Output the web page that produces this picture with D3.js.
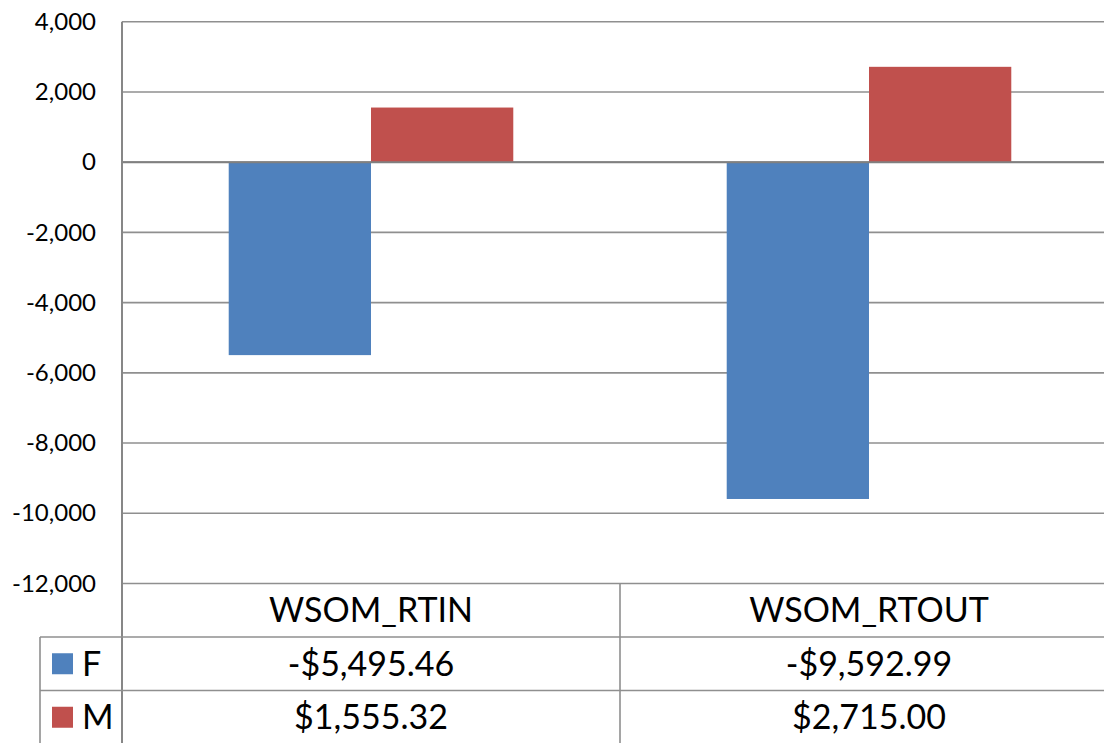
<!DOCTYPE html>
<html>
<head>
<meta charset="utf-8">
<script src="https://cdn.jsdelivr.net/npm/d3@7"></script>
<style>
  html, body { margin: 0; padding: 0; background: #fff; overflow: hidden; }
  svg { display: block; }
  text { font-family: Lato, "Open Sans", sans-serif; fill: #000; }
</style>
</head>
<body>
<svg id="chart" width="1104" height="743"></svg>
<script>
// chart data
var categories = ["WSOM_RTIN", "WSOM_RTOUT"];
var seriesNames = ["F", "M"];
var seriesF = [-5495.46, -9592.99];
var seriesM = [1555.32, 2715.00];
var yTicks = [4000, 2000, 0, -2000, -4000, -6000, -8000, -10000, -12000];

var colors = { F: "#4F81BD", M: "#C0504D" };
var values = { F: seriesF, M: seriesM };

var svg = d3.select("#chart");

// plot area (the right edge runs past the window, as in the original)
var plotLeft = 122, plotRight = 1118, plotTop = 21.7, plotBottom = 583.5;
var rowH = 53.5, legendLeft = 40;

var x0 = d3.scaleBand().domain(categories).range([plotLeft, plotRight]);
var x1 = d3.scaleBand().domain(seriesNames).range([0, x0.bandwidth()]).paddingOuter(0.75);
var y = d3.scaleLinear().domain([-12000, 4000]).range([plotBottom, plotTop]);

// plain hyphen for negatives, like the spreadsheet
var locale = d3.formatLocale({ decimal: ".", thousands: ",", grouping: [3], currency: ["$", ""], minus: "-" });
var fmtTick = locale.format(",");
var fmtMoney = function (v) { return (v < 0 ? "-$" : "$") + locale.format(",.2f")(Math.abs(v)); };

// gridlines
svg.append("g")
    .selectAll("line")
    .data(yTicks)
    .enter().append("line")
    .attr("x1", plotLeft).attr("x2", plotRight)
    .attr("y1", d => y(d)).attr("y2", d => y(d))
    .attr("stroke", "#8f8f8f")
    .attr("stroke-width", 1.6);

// y axis labels
var yAxis = svg.append("g")
    .attr("transform", `translate(${plotLeft},0)`)
    .call(d3.axisLeft(y).tickValues(yTicks).tickFormat(fmtTick).tickSize(0).tickPadding(26));
yAxis.select(".domain").remove();
yAxis.selectAll("text")
    .style("font-family", "Lato, 'Open Sans', sans-serif")
    .style("font-size", "24px")
    .attr("fill", "#000");

// bars
var group = svg.append("g")
    .selectAll("g")
    .data(categories)
    .enter().append("g")
    .attr("transform", d => `translate(${x0(d)},0)`);

group.selectAll("rect")
    .data((c, i) => seriesNames.map(s => ({ key: s, value: values[s][i] })))
    .enter().append("rect")
    .attr("x", d => x1(d.key))
    .attr("width", x1.bandwidth())
    .attr("y", d => y(Math.max(0, d.value)))
    .attr("height", d => Math.abs(y(d.value) - y(0)))
    .attr("fill", d => colors[d.key]);

// zero line on top of bars
svg.append("line")
    .attr("x1", plotLeft).attr("x2", plotRight)
    .attr("y1", y(0)).attr("y2", y(0))
    .attr("stroke", "#808080").attr("stroke-width", 2);

// vertical axis line
svg.append("line")
    .attr("x1", plotLeft).attr("x2", plotLeft)
    .attr("y1", plotTop).attr("y2", 743)
    .attr("stroke", "#878787").attr("stroke-width", 2);

// data table
var table = svg.append("g");
var lineColor = "#8f8f8f";

// header row
table.selectAll(".hdr")
    .data(categories)
    .enter().append("text")
    .attr("class", "hdr")
    .attr("x", d => x0(d) + x0.bandwidth() / 2)
    .attr("y", plotBottom + rowH / 2)
    .attr("dy", "0.36em")
    .attr("text-anchor", "middle")
    .style("font-size", "34px")
    .text(d => d);

// horizontal table lines
[plotBottom + rowH, plotBottom + rowH * 2].forEach(function (ly) {
    table.append("line")
        .attr("x1", legendLeft).attr("x2", plotRight)
        .attr("y1", ly).attr("y2", ly)
        .attr("stroke", lineColor).attr("stroke-width", 1.6);
});

// vertical table lines
table.append("line")
    .attr("x1", legendLeft).attr("x2", legendLeft)
    .attr("y1", plotBottom + rowH).attr("y2", 743)
    .attr("stroke", lineColor).attr("stroke-width", 1.6);
x0.domain().slice(1).forEach(function (c) {
    table.append("line")
        .attr("x1", x0(c)).attr("x2", x0(c))
        .attr("y1", plotBottom).attr("y2", 743)
        .attr("stroke", lineColor).attr("stroke-width", 1.6);
});

// value rows
seriesNames.forEach(function (s, r) {
    var cy = plotBottom + rowH * (r + 1) + rowH / 2;

    table.append("rect")
        .attr("x", 52).attr("y", cy - 10.5)
        .attr("width", 21).attr("height", 21)
        .attr("fill", colors[s]);

    table.append("text")
        .attr("x", 82).attr("y", cy)
        .attr("dy", "0.36em")
        .style("font-size", "34px")
        .text(s);

    table.selectAll(".val" + s)
        .data(values[s])
        .enter().append("text")
        .attr("x", (d, i) => x0(categories[i]) + x0.bandwidth() / 2)
        .attr("y", cy)
        .attr("dy", "0.36em")
        .attr("text-anchor", "middle")
        .style("font-size", "34px")
        .text(d => fmtMoney(d));
});
</script>
</body>
</html>
